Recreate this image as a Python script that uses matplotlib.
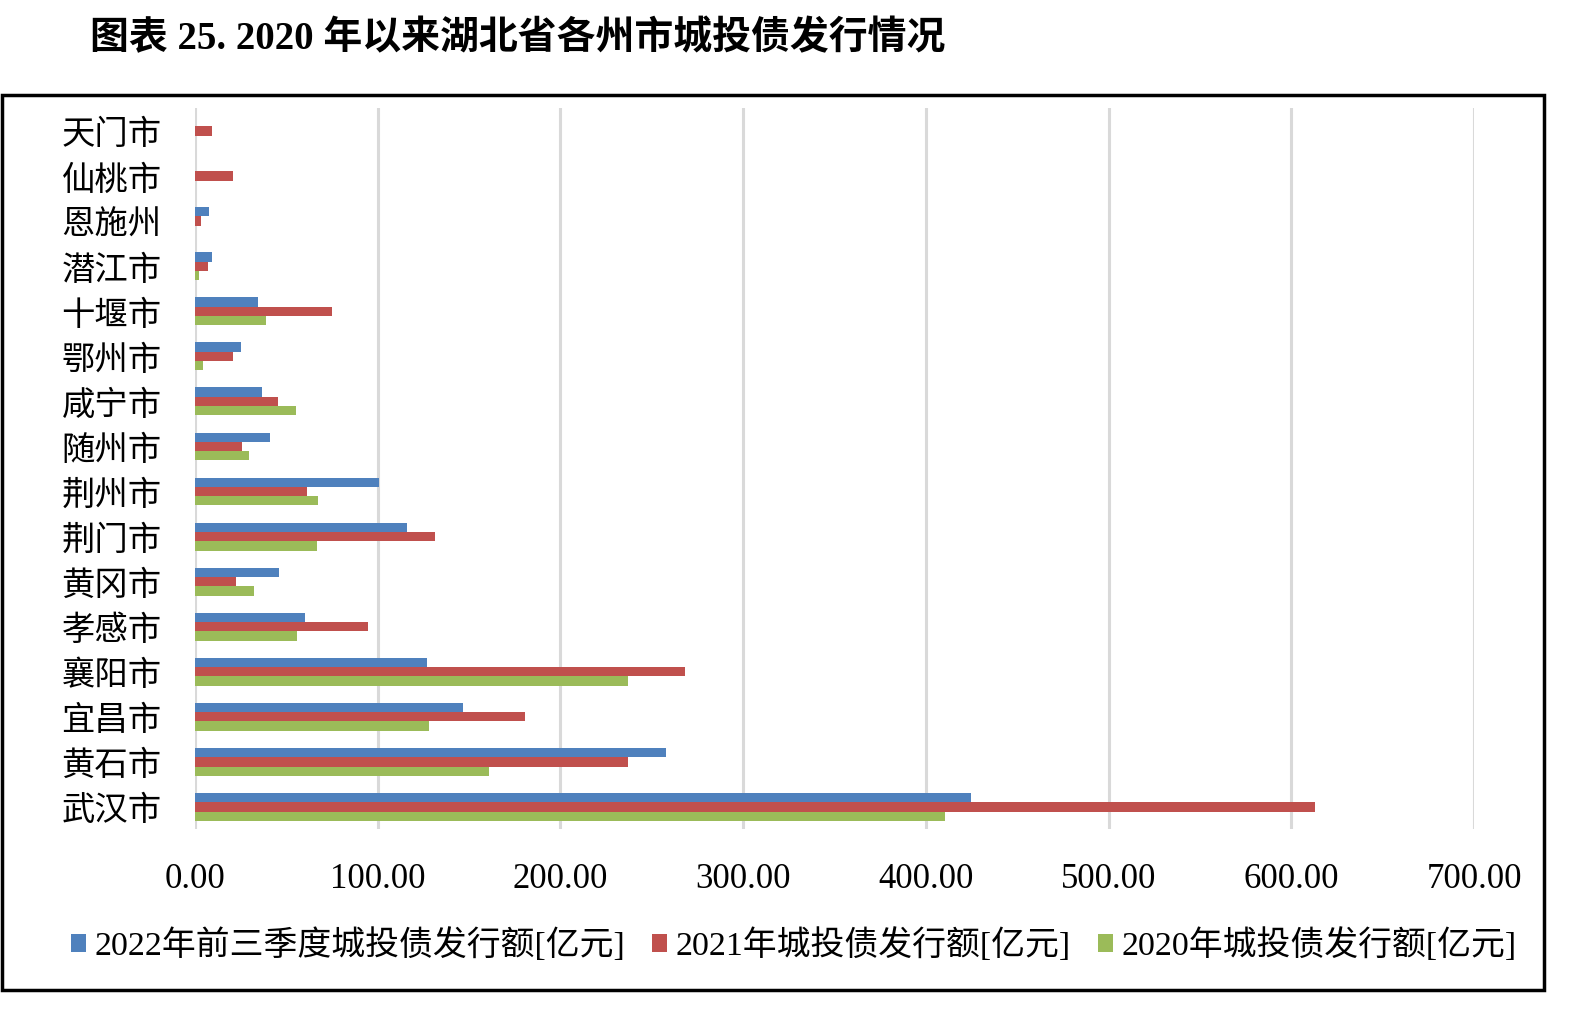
import matplotlib.pyplot as plt
import numpy as np
from matplotlib.patches import Rectangle

plt.rcParams['font.family'] = ['Liberation Serif', 'Noto Sans CJK SC']

cities = ['天门市', '仙桃市', '恩施州', '潜江市', '十堰市', '鄂州市', '咸宁市', '随州市',
          '荆州市', '荆门市', '黄冈市', '孝感市', '襄阳市', '宜昌市', '黄石市', '武汉市']
v2022 = [0, 0, 7.6, 9.6, 34.7, 25.1, 36.6, 40.9,
         100.7, 116.2, 45.8, 60.4, 127.1, 146.5, 257.6, 424.5]
v2021 = [9.6, 20.9, 3.3, 7.3, 74.9, 20.7, 45.5, 26.0,
         61.5, 131.3, 22.5, 94.5, 268.3, 180.5, 236.8, 612.8]
v2020 = [0, 0, 0, 2.0, 38.7, 4.5, 55.3, 29.5,
         67.3, 66.7, 32.4, 56.0, 236.8, 128.1, 161.1, 410.5]
series_names = ['2022年前三季度城投债发行额[亿元]', '2021年城投债发行额[亿元]',
                '2020年城投债发行额[亿元]']
colors = ['#4F81BD', '#C0504D', '#9BBB59']
xticks = [0, 100, 200, 300, 400, 500, 600, 700]

fig = plt.figure(figsize=(15.72, 10.09), dpi=100)
ax = fig.add_axes([0.124, 0.1779, 0.8137, 0.7146])

y = np.arange(len(cities))
h = 0.206
for i, vals in enumerate([v2022, v2021, v2020]):
    ax.barh(y + (i - 1) * h, vals, height=h, color=colors[i],
            label=series_names[i], zorder=3)

ax.set_ylim(len(cities) - 0.5, -0.5)
ax.set_xlim(0, 700)
ax.set_xticks(xticks)
ax.set_xticklabels(['%.2f' % t for t in xticks], fontsize=25)
ax.set_yticks(y)
ax.set_yticklabels(cities, fontsize=24, family=['Noto Sans CJK SC'])
ax.tick_params(axis='x', length=0, pad=24)
ax.tick_params(axis='y', length=0, pad=24)
ax.grid(axis='x', color='#d9d9d9', linewidth=2.2, zorder=0)
for s in ax.spines.values():
    s.set_visible(False)

fig.legend(loc='center', bbox_to_anchor=(0.505, 0.063), ncol=3, frameon=False,
           fontsize=24.4, handlelength=0.45, handleheight=0.45, handletextpad=0.25,
           columnspacing=0.8)

fig.text(0.057, 0.961, '图表 25. 2020 年以来湖北省各州市城投债发行情况',
         fontsize=28, fontweight='bold', va='center', ha='left')

fig.patches.append(Rectangle((0.001, 0.0188), 0.9815, 0.887, transform=fig.transFigure,
                             fill=False, edgecolor='black', linewidth=2.5))

fig.savefig('out.png', dpi=100)
